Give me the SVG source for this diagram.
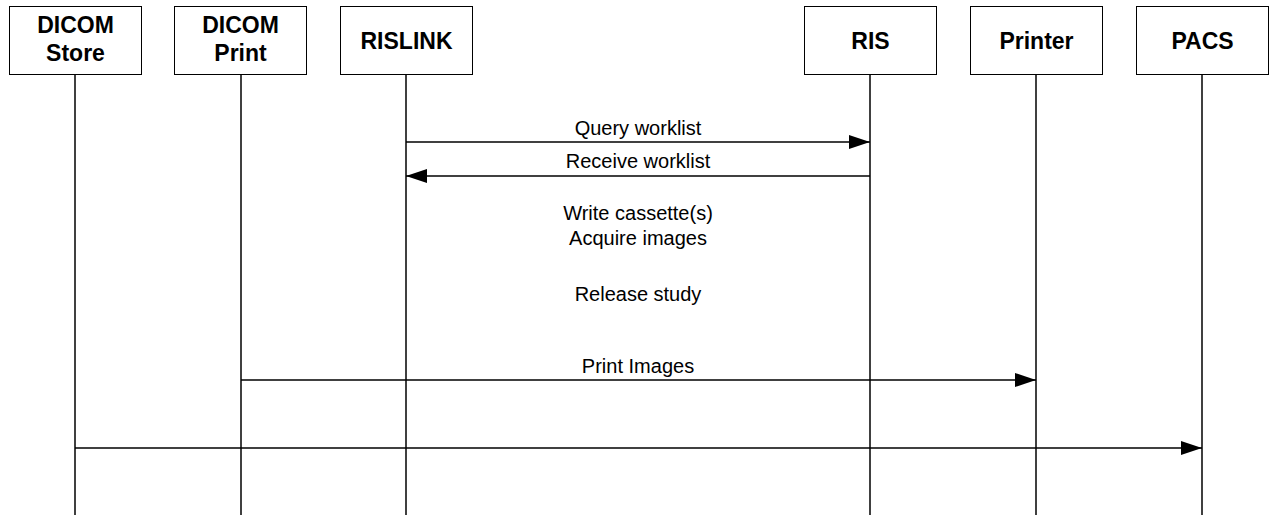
<svg xmlns="http://www.w3.org/2000/svg" width="1275" height="515" viewBox="0 0 1275 515">
<style>
.box{fill:#fff;stroke:#000;stroke-width:1}
.life{stroke:#000;stroke-width:1.5;fill:none}
.msg{stroke:#000;stroke-width:1.5;fill:none;marker-end:url(#ah)}
.hd{font-family:"Liberation Sans",Arial,sans-serif;font-weight:bold;font-size:23px;text-anchor:middle;fill:#000}
.lb{font-family:"Liberation Sans",Arial,sans-serif;font-size:20px;text-anchor:middle;fill:#000}
</style>
<defs>
<marker id="ah" markerUnits="userSpaceOnUse" markerWidth="22" markerHeight="14" refX="21" refY="7" orient="auto">
<path d="M0,0 L21,7 L0,14 z" fill="#000"/>
</marker>
</defs>
<rect width="1275" height="515" fill="#fff"/>
<g id="dicom-store">
<line class="life" x1="75" y1="74" x2="75" y2="515"/>
<rect class="box" x="9.5" y="6.5" width="132" height="68"/>
<text class="hd" x="75.5" y="33">DICOM</text>
<text class="hd" x="75.5" y="61">Store</text>
</g>
<g id="dicom-print">
<line class="life" x1="241" y1="74" x2="241" y2="515"/>
<rect class="box" x="174.5" y="6.5" width="132" height="68"/>
<text class="hd" x="240.5" y="33">DICOM</text>
<text class="hd" x="240.5" y="61">Print</text>
</g>
<g id="rislink">
<line class="life" x1="406" y1="74" x2="406" y2="515"/>
<rect class="box" x="340.5" y="6.5" width="132" height="68"/>
<text class="hd" x="406.5" y="49">RISLINK</text>
</g>
<g id="ris">
<line class="life" x1="870" y1="74" x2="870" y2="515"/>
<rect class="box" x="804.5" y="6.5" width="132" height="68"/>
<text class="hd" x="870.5" y="49">RIS</text>
</g>
<g id="printer">
<line class="life" x1="1036" y1="74" x2="1036" y2="515"/>
<rect class="box" x="970.5" y="6.5" width="132" height="68"/>
<text class="hd" x="1036.5" y="49">Printer</text>
</g>
<g id="pacs">
<line class="life" x1="1202" y1="74" x2="1202" y2="515"/>
<rect class="box" x="1136.5" y="6.5" width="132" height="68"/>
<text class="hd" x="1202.5" y="49">PACS</text>
</g>
<g id="connectors">
<line class="msg" x1="406" y1="142" x2="870" y2="142"/>
<line class="msg" x1="870" y1="176" x2="406" y2="176"/>
<line class="msg" x1="241" y1="380" x2="1036" y2="380"/>
<line class="msg" x1="75" y1="448" x2="1202" y2="448"/>
</g>
<g id="labels">
<text class="lb" x="638" y="135">Query worklist</text>
<text class="lb" x="638" y="168">Receive worklist</text>
<text class="lb" x="638" y="220">Write cassette(s)</text>
<text class="lb" x="638" y="245">Acquire images</text>
<text class="lb" x="638" y="301">Release study</text>
<text class="lb" x="638" y="373">Print Images</text>
</g>
</svg>
